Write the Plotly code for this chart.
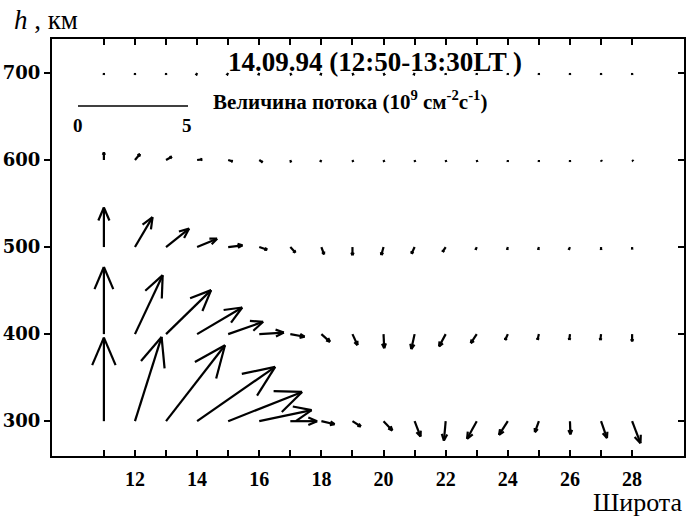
import plotly.graph_objects as go

# ---------------- data ----------------
latitudes = list(range(11, 29))            # Широта
heights = [300, 400, 500, 600, 700]        # h, км

# flux components (10^9 cm^-2 s^-1): U = horizontal (latitude), V = vertical (height)
U300 = [0.0, 1.21, 2.68, 3.55, 3.36, 2.38, 1.22, 0.60, 0.38, 0.40, 0.27, -0.08, -0.44, -0.40, -0.18, 0.02, 0.27, 0.38]
V300 = [3.80, 3.83, 3.45, 2.47, 1.33, 0.50, 0.00, -0.14, -0.24, -0.42, -0.70, -0.88, -0.80, -0.62, -0.50, -0.60, -0.77, -1.00]
U400 = [0.0, 1.26, 2.05, 2.05, 1.59, 1.12, 0.65, 0.39, 0.23, 0.03, -0.15, -0.30, -0.27, -0.12, -0.06, -0.03, -0.03, 0.0]
V400 = [3.05, 2.68, 2.00, 1.21, 0.56, 0.07, -0.12, -0.35, -0.50, -0.64, -0.68, -0.56, -0.41, -0.27, -0.26, -0.26, -0.27, -0.33]
U500 = [0.0, 0.80, 1.05, 0.91, 0.65, 0.36, 0.23, 0.12, 0.0, -0.10, -0.14, -0.14, -0.05, -0.03, -0.03, -0.05, 0.0, 0.0]
V500 = [1.80, 1.36, 0.84, 0.38, 0.08, -0.12, -0.25, -0.33, -0.37, -0.36, -0.30, -0.22, -0.12, -0.12, -0.12, -0.12, -0.12, -0.10]
U600 = [0.0, 0.23, 0.26, 0.23, 0.20, 0.15, 0.03, -0.05, 0.03, 0.03, 0.02, 0.02, 0.02, 0.0, 0.0, 0.0, 0.03, 0.05]
V600 = [0.35, 0.27, 0.15, 0.03, -0.06, -0.10, -0.10, -0.08, -0.08, -0.08, -0.08, -0.08, -0.08, -0.08, -0.08, -0.08, -0.06, -0.05]
U700 = [0.0, 0.0, 0.0, -0.05, -0.06, -0.04, 0.04, -0.04, 0.04, 0.05, -0.04, 0.0, 0.0, 0.0, 0.0, 0.0, 0.0, 0.0]
V700 = [-0.08, -0.08, -0.08, -0.10, -0.10, -0.10, -0.10, -0.10, -0.10, -0.10, -0.10, -0.08, -0.08, -0.08, -0.08, -0.08, -0.08, -0.08]

U_rows = [U300, U400, U500, U600, U700]
V_rows = [V300, V400, V500, V600, V700]

x_major = [12, 14, 16, 18, 20, 22, 24, 26, 28]
x_minor = [11, 13, 15, 17, 19, 21, 23, 25, 27]
x_all = list(range(11, 29))
y_tickvals = [300, 400, 500, 600, 700]

scale_value = 5  # reference arrow length

title_text = "14.09.94 (12:50-13:30LT )"
legend_text = "Величина потока (10<sup>9</sup> см<sup>-2</sup>с<sup>-1</sup>)"

# ---------------- layout geometry ----------------
W, H = 697, 517
ML, MR, MT, MB = 52, 13, 39, 61
XR = [9.33, 29.67]
YR = [260, 739]
pw = W - ML - MR
ph = H - MT - MB
px_x = pw / (XR[1] - XR[0])   # pixels per latitude unit
px_y = ph / (YR[1] - YR[0])   # pixels per km
S = 22.0                      # pixels per flux unit
ALPHA, BETA = 0.33, 0.14

def arrow_segments(x0, y0, u, v):
    # work in pixel space so arrowheads are not distorted, then map back
    dxp, dyp = u * S, v * S
    xs, ys = [], []
    tipx = x0 + dxp / px_x
    tipy = y0 + dyp / px_y
    xs += [x0, tipx, None]
    ys += [y0, tipy, None]
    for sgn in (1, -1):
        bx = dxp - ALPHA * dxp + sgn * BETA * (-dyp)
        by = dyp - ALPHA * dyp + sgn * BETA * dxp
        xs += [x0 + bx / px_x, tipx, None]
        ys += [y0 + by / px_y, tipy, None]
    return xs, ys

AX, AY = [], []
for h, Ur, Vr in zip(heights, U_rows, V_rows):
    for lat, u, v in zip(latitudes, Ur, Vr):
        sx, sy = arrow_segments(lat, h, u, v)
        AX += sx
        AY += sy

fig = go.Figure()
fig.add_trace(go.Scatter(x=AX, y=AY, mode="lines",
                         line=dict(color="black", width=2.2),
                         hoverinfo="skip", showlegend=False))

# scale bar
sb_x0 = XR[0] + (78 - ML) / px_x
sb_x1 = sb_x0 + scale_value * S / px_x
sb_y = YR[1] - (106 - MT) / px_y
fig.add_trace(go.Scatter(x=[sb_x0, sb_x1], y=[sb_y, sb_y], mode="lines",
                         line=dict(color="black", width=1.5),
                         hoverinfo="skip", showlegend=False))

# invisible trace for mirrored axes
fig.add_trace(go.Scatter(x=[XR[0]], y=[YR[0]], xaxis="x2", yaxis="y2",
                         mode="markers", marker=dict(opacity=0),
                         hoverinfo="skip", showlegend=False))

serif = "Liberation Serif"
fig.update_layout(
    template="none",
    width=W, height=H,
    margin=dict(l=ML, r=MR, t=MT, b=MB, pad=0, autoexpand=False),
    paper_bgcolor="white", plot_bgcolor="white",
    xaxis=dict(range=XR, tickmode="array", tickvals=x_major,
               ticktext=[str(v) for v in x_major],
               ticks="inside", ticklen=6, tickwidth=2, tickcolor="black",
               ticklabelstandoff=4,
               minor=dict(tickmode="array", tickvals=x_minor, ticks="inside",
                          ticklen=6, tickwidth=2, tickcolor="black", showgrid=False),
               showline=True, linewidth=2, linecolor="black",
               showgrid=False, zeroline=False, automargin=False,
               tickfont=dict(family=serif, size=20, color="black", weight="bold")),
    yaxis=dict(range=YR, tickmode="array", tickvals=y_tickvals,
               ticktext=[str(v) for v in y_tickvals],
               ticks="outside", ticklen=6, tickwidth=2, tickcolor="black",
               showline=True, linewidth=2, linecolor="black",
               showgrid=False, zeroline=False, automargin=False,
               tickfont=dict(family="DejaVu Serif", size=18, color="black", weight="bold")),
    xaxis2=dict(range=XR, overlaying="x", side="top", tickmode="array", tickvals=x_all,
                ticks="inside", ticklen=6, tickwidth=2, tickcolor="black",
                showticklabels=False, showline=True, linewidth=2, linecolor="black",
                showgrid=False, zeroline=False, automargin=False),
    yaxis2=dict(range=YR, overlaying="y", side="right", tickmode="array", tickvals=y_tickvals,
                ticks="inside", ticklen=6, tickwidth=2, tickcolor="black",
                showticklabels=False, showline=True, linewidth=2, linecolor="black",
                showgrid=False, zeroline=False, automargin=False),
    showlegend=False,
)

def px2paper(px, py):
    return (px - ML) / pw, (H - MB - py) / ph

ann = []
tx, ty = px2paper(375, 62)
ann.append(dict(text="<b>" + title_text + "</b>", x=tx, y=ty, xref="paper", yref="paper",
                xanchor="center", yanchor="middle", showarrow=False,
                font=dict(family=serif, size=27, color="black")))
lx, ly = px2paper(211, 101)
ann.append(dict(text="<b>" + legend_text + "</b>", x=lx, y=ly, xref="paper", yref="paper",
                xanchor="left", yanchor="middle", showarrow=False,
                font=dict(family=serif, size=21, color="black")))
zx, zy = px2paper(78, 125)
ann.append(dict(text="<b>0</b>", x=zx, y=zy, xref="paper", yref="paper",
                xanchor="center", yanchor="middle", showarrow=False,
                font=dict(family=serif, size=19, color="black")))
fx, fy = px2paper(187, 125)
ann.append(dict(text="<b>" + str(scale_value) + "</b>", x=fx, y=fy, xref="paper", yref="paper",
                xanchor="center", yanchor="middle", showarrow=False,
                font=dict(family=serif, size=19, color="black")))
hx, hy = px2paper(12, 20)
ann.append(dict(text="<i>h</i> , км", x=hx, y=hy, xref="paper", yref="paper",
                xanchor="left", yanchor="middle", showarrow=False,
                font=dict(family=serif, size=27, color="black")))
sx_, sy_ = px2paper(684, 502)
ann.append(dict(text="Широта", x=sx_, y=sy_, xref="paper", yref="paper",
                xanchor="right", yanchor="middle", showarrow=False,
                font=dict(family=serif, size=26, color="black")))
fig.update_layout(annotations=ann)

fig.write_html("out.html", config={"displayModeBar": False},
               post_script="document.body.style.margin='0';document.body.style.overflow='hidden';")
